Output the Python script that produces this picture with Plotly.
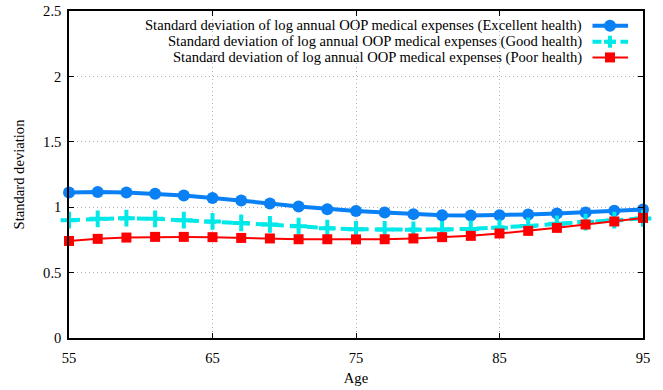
import plotly.graph_objects as go

ages = [55, 57, 59, 61, 63, 65, 67, 69, 71, 73, 75, 77, 79, 81, 83, 85, 87, 89, 91, 93, 95]
sd_excellent = [1.113, 1.117, 1.113, 1.102, 1.090, 1.071, 1.052, 1.029, 1.006, 0.985, 0.971,
                0.960, 0.947, 0.939, 0.937, 0.939, 0.944, 0.952, 0.960, 0.972, 0.983]
sd_good = [0.901, 0.911, 0.916, 0.911, 0.901, 0.891, 0.880, 0.868, 0.855, 0.840, 0.831,
           0.830, 0.827, 0.830, 0.834, 0.842, 0.857, 0.873, 0.886, 0.901, 0.914]
sd_poor = [0.742, 0.758, 0.768, 0.773, 0.773, 0.771, 0.765, 0.761, 0.755, 0.755, 0.754,
           0.755, 0.761, 0.771, 0.781, 0.799, 0.819, 0.842, 0.868, 0.891, 0.918]

names = [
    "Standard deviation of log annual OOP medical expenses (Excellent health)",
    "Standard deviation of log annual OOP medical expenses (Good health)",
    "Standard deviation of log annual OOP medical expenses (Poor health)",
]
x_ticks = [55, 65, 75, 85, 95]
y_ticks = [0, 0.5, 1, 1.5, 2, 2.5]

BLUE = "#0a80f5"
CYAN = "#00e8e8"
RED = "#ff0000"
FONT = "'Liberation Serif', 'Times New Roman', 'DejaVu Serif', serif"
FS = 14.6

fig = go.Figure()
fig.add_trace(go.Scatter(x=ages, y=sd_excellent, mode="lines+markers", name=names[0],
                         line=dict(color=BLUE, width=4),
                         marker=dict(symbol="circle", size=12, color=BLUE),
                         cliponaxis=False, showlegend=False))
fig.add_trace(go.Scatter(x=ages, y=sd_good, mode="lines+markers", name=names[1],
                         line=dict(color=CYAN, width=4, dash="11px,6px"),
                         marker=dict(symbol="cross-thin", size=12, color=CYAN,
                                     line=dict(color=CYAN, width=4)),
                         cliponaxis=False, showlegend=False))
fig.add_trace(go.Scatter(x=ages, y=sd_poor, mode="lines+markers", name=names[2],
                         line=dict(color=RED, width=2),
                         marker=dict(symbol="square", size=10, color=RED),
                         cliponaxis=False, showlegend=False))

# Hand-built legend (gnuplot style: text right-aligned, sample on the right)
rows_y = [0.955, 0.906, 0.858]
text_x = 0.897
line_x0, line_x1, mark_x = 0.912, 0.974, 0.9425
shapes = []
annotations = []
for nm, yy in zip(names, rows_y):
    annotations.append(dict(x=text_x, y=yy, xref="paper", yref="paper", text=nm,
                            showarrow=False, xanchor="right", yanchor="middle",
                            font=dict(family=FONT, size=FS, color="black")))
# Excellent
shapes.append(dict(type="line", xref="paper", yref="paper", x0=line_x0, x1=line_x1,
                   y0=rows_y[0], y1=rows_y[0], line=dict(color=BLUE, width=4)))
shapes.append(dict(type="circle", xref="paper", yref="paper", xsizemode="pixel", ysizemode="pixel",
                   xanchor=mark_x, yanchor=rows_y[0], x0=-6, x1=6, y0=-6, y1=6,
                   fillcolor=BLUE, line=dict(color=BLUE, width=0)))
# Good
shapes.append(dict(type="line", xref="paper", yref="paper", x0=line_x0, x1=line_x1,
                   y0=rows_y[1], y1=rows_y[1], line=dict(color=CYAN, width=4, dash="9px,5px")))
shapes.append(dict(type="line", xref="paper", yref="paper", xsizemode="pixel", ysizemode="pixel",
                   xanchor=mark_x, yanchor=rows_y[1], x0=-6, x1=6, y0=0, y1=0,
                   line=dict(color=CYAN, width=4)))
shapes.append(dict(type="line", xref="paper", yref="paper", xsizemode="pixel", ysizemode="pixel",
                   xanchor=mark_x, yanchor=rows_y[1], x0=0, x1=0, y0=-6, y1=6,
                   line=dict(color=CYAN, width=4)))
# Poor
shapes.append(dict(type="line", xref="paper", yref="paper", x0=line_x0, x1=line_x1,
                   y0=rows_y[2], y1=rows_y[2], line=dict(color=RED, width=2)))
shapes.append(dict(type="rect", xref="paper", yref="paper", xsizemode="pixel", ysizemode="pixel",
                   xanchor=mark_x, yanchor=rows_y[2], x0=-5, x1=5, y0=-5, y1=5,
                   fillcolor=RED, line=dict(color=RED, width=0)))

axis_common = dict(showline=True, linecolor="black", linewidth=1.5, mirror="ticks",
                   ticks="inside", ticklen=5, tickcolor="black", tickwidth=1,
                   showgrid=True, gridcolor="#b0b0b0", griddash="1px,3px", gridwidth=1,
                   zeroline=False, automargin=False,
                   tickfont=dict(family=FONT, size=FS, color="black"),
                   title_font=dict(family=FONT, size=FS, color="black"))

fig.update_layout(
    width=663, height=390,
    margin=dict(l=69, r=20, t=11, b=52),
    plot_bgcolor="white", paper_bgcolor="white",
    font=dict(family=FONT),
    xaxis=dict(range=[55, 95], tickvals=x_ticks, ticktext=[str(v) for v in x_ticks],
               ticklabelstandoff=6,
               title=dict(text="Age", standoff=8), **axis_common),
    yaxis=dict(range=[0, 2.5], tickvals=y_ticks, ticktext=["0", "0.5", "1", "1.5", "2", "2.5"],
               ticklabelstandoff=3,
               title=dict(text="Standard deviation", standoff=15), **axis_common),
    shapes=shapes, annotations=annotations, showlegend=False,
)
fig.write_html("out.html")
